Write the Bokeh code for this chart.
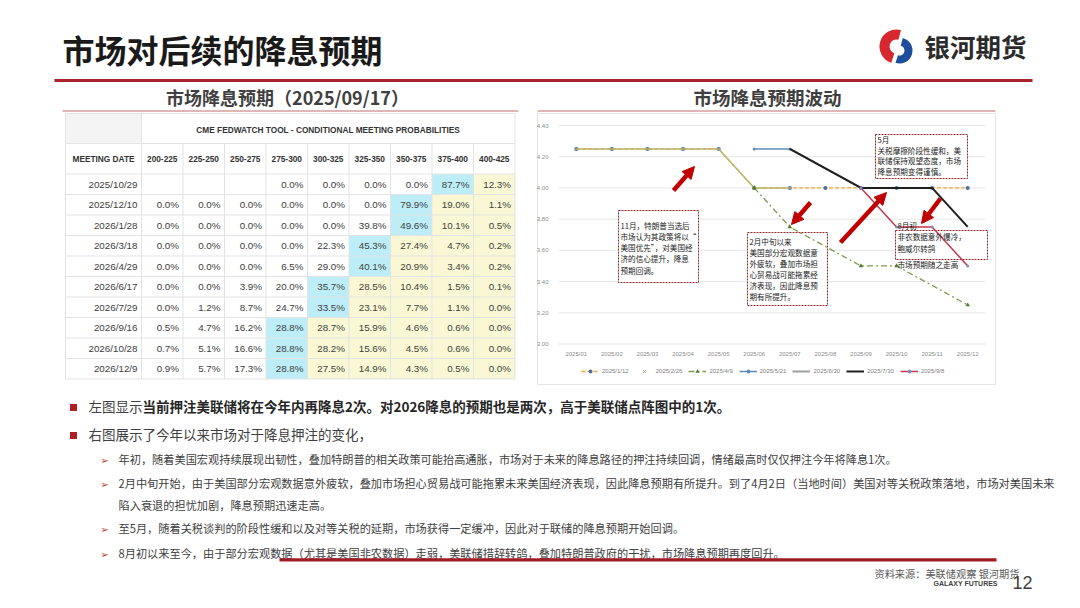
from bokeh.plotting import figure
from bokeh.models import Range1d, Arrow, NormalHead, Legend, LegendItem
from bokeh.core.properties import value
from bokeh.embed import file_html
from bokeh.resources import INLINE

CJK = "Noto Sans CJK SC"
LAT = "Liberation Sans"

# ---------------- data: FedWatch table ----------------
meeting_dates = ["2025/10/29", "2025/12/10", "2026/1/28", "2026/3/18", "2026/4/29",
                 "2026/6/17", "2026/7/29", "2026/9/16", "2026/10/28", "2026/12/9"]
rate_ranges = ["200-225", "225-250", "250-275", "275-300", "300-325",
               "325-350", "350-375", "375-400", "400-425"]
probs = [
    [None, None, None, 0.0, 0.0, 0.0, 0.0, 87.7, 12.3],
    [0.0, 0.0, 0.0, 0.0, 0.0, 0.0, 79.9, 19.0, 1.1],
    [0.0, 0.0, 0.0, 0.0, 0.0, 39.8, 49.6, 10.1, 0.5],
    [0.0, 0.0, 0.0, 0.0, 22.3, 45.3, 27.4, 4.7, 0.2],
    [0.0, 0.0, 0.0, 6.5, 29.0, 40.1, 20.9, 3.4, 0.2],
    [0.0, 0.0, 3.9, 20.0, 35.7, 28.5, 10.4, 1.5, 0.1],
    [0.0, 1.2, 8.7, 24.7, 33.5, 23.1, 7.7, 1.1, 0.0],
    [0.5, 4.7, 16.2, 28.8, 28.7, 15.9, 4.6, 0.6, 0.0],
    [0.7, 5.1, 16.6, 28.8, 28.2, 15.6, 4.5, 0.6, 0.0],
    [0.9, 5.7, 17.3, 28.8, 27.5, 14.9, 4.3, 0.5, 0.0],
]

# ---------------- data: expectation lines ----------------
months = ["2025/01", "2025/02", "2025/03", "2025/04", "2025/05", "2025/06",
          "2025/07", "2025/08", "2025/09", "2025/10", "2025/11", "2025/12"]
y_ticks = [3.00, 3.20, 3.40, 3.60, 3.80, 4.00, 4.20, 4.40]
s_0112_x = months
s_0112_y = [4.25, 4.25, 4.25, 4.25, 4.25, 4.00, 4.00, 4.00, 4.00, 4.00, 4.00, 4.00]
s_0226_x = ["2025/01", "2025/02", "2025/03", "2025/04", "2025/05", "2025/06", "2025/07"]
s_0226_y = [4.25, 4.25, 4.25, 4.25, 4.25, 4.00, 4.00]
s_0409_x = ["2025/06", "2025/07", "2025/09", "2025/10", "2025/12"]
s_0409_y = [4.00, 3.75, 3.50, 3.50, 3.25]
s_0521_x = ["2025/06", "2025/07"]
s_0521_y = [4.25, 4.25]
s_0630_x = ["2025/07", "2025/09", "2025/10", "2025/11"]
s_0630_y = [4.25, 4.00, 4.00, 4.00]
s_0730_x = ["2025/07", "2025/09", "2025/10", "2025/11", "2025/12"]
s_0730_y = [4.25, 4.00, 4.00, 4.00, 3.75]
s_0908_x = ["2025/09", "2025/10", "2025/11", "2025/12"]
s_0908_y = [4.00, 3.75, 3.75, 3.50]
series_labels = ["2025/1/12", "2025/2/26", "2025/4/9", "2025/5/21",
                 "2025/6/30", "2025/7/30", "2025/9/8"]

# ---------------- texts ----------------
title = "市场对后续的降息预期"
brand = "银河期货"
sub_left = "市场降息预期（2025/09/17）"
sub_right = "市场降息预期波动"
table_title = "CME FEDWATCH TOOL - CONDITIONAL MEETING PROBABILITIES"
box1 = ["11月，特朗普当选后", "市场认为其政策将以“", "美国优先”，对美国经", "济的信心提升，降息", "预期回调。"]
box2 = ["2月中旬以来", "美国部分宏观数据意", "外疲软，叠加市场担", "心贸易战可能拖累经", "济表现，因此降息预", "期有所提升。"]
box3 = ["5月", "关税摩擦阶段性缓和，美", "联储保持观望态度，市场", "降息预期变得谨慎。"]
box4 = ["8月初", "非农数据意外爆冷，", "鲍威尔转鸽", "市场预期随之走高"]
b1_reg = "左图显示"
b1_bold = "当前押注美联储将在今年内再降息2次。对2026降息的预期也是两次，高于美联储点阵图中的1次。"
b2 = "右图展示了今年以来市场对于降息押注的变化，"
subs = [
    "年初，随着美国宏观持续展现出韧性，叠加特朗普的相关政策可能抬高通胀，市场对于未来的降息路径的押注持续回调，情绪最高时仅仅押注今年将降息1次。",
    "2月中旬开始，由于美国部分宏观数据意外疲软，叠加市场担心贸易战可能拖累未来美国经济表现，因此降息预期有所提升。到了4月2日（当地时间）美国对等关税政策落地，市场对美国未来",
    "陷入衰退的担忧加剧，降息预期迅速走高。",
    "至5月，随着关税谈判的阶段性缓和以及对等关税的延期，市场获得一定缓冲，因此对于联储的降息预期开始回调。",
    "8月初以来至今，由于部分宏观数据（尤其是美国非农数据）走弱，美联储措辞转鸽，叠加特朗普政府的干扰，市场降息预期再度回升。",
]
source = "资料来源：美联储观察 银河期货"

W, H = 1080, 608
p = figure(width=W, height=H, x_range=Range1d(0, W), y_range=Range1d(H, 0),
           output_backend="svg", toolbar_location=None, min_border=0,
           x_axis_location=None, y_axis_location=None)
p.grid.visible = False
p.outline_line_color = None
p.background_fill_color = "white"
p.border_fill_color = "white"

# chart scales (extra ranges): plot area 558..985 px wide, 4.40 at y=125, 3.00 at y=343.5
CX0, CX1, CYT, CYB = 558.0, 985.0, 125.0, 343.5
BW = (CX1 - CX0) / len(months)
PPU = (CYB - CYT) / (y_ticks[-1] - y_ticks[0])
p.extra_x_ranges = {"cx": Range1d(-CX0 / BW, (W - CX0) / BW)}
p.extra_y_ranges = {"cy": Range1d(y_ticks[0] - (H - CYB) / PPU, y_ticks[-1] + CYT / PPU)}

CJK_DY = -1.5  # CJK glyphs sit slightly low with a "middle" baseline


def txt(x, y, t, size, color="#404040", font=CJK, bold=False, align="left", baseline="middle"):
    if font == CJK:
        y = y + CJK_DY
    p.text(x=[x], y=[y], text=[t], text_font=value(font), text_font_size=size,
           text_color=color, text_font_style="bold" if bold else "normal",
           text_align=align, text_baseline=baseline)


# ================= header =================
txt(62, 50, title, "32px", "#1A1A1A", bold=True)
p.annular_wedge(x=[896], y=[46], inner_radius=7, outer_radius=17, start_angle=1.3, end_angle=4.4,
                fill_color="#D7282F", line_color=None)
p.annular_wedge(x=[899], y=[50], inner_radius=5, outer_radius=13, start_angle=4.4, end_angle=7.6,
                fill_color="#1F4E9A", line_color=None)
txt(924, 46, brand, "25.5px", "#2B2B2B", bold=True)
p.segment(x0=[54], y0=[80], x1=[1032], y1=[80], line_color="#A8232A", line_width=3)
txt(287, 98, sub_left, "18px", "#404040", bold=True, align="center")
txt(767, 98, sub_right, "18.5px", "#404040", bold=True, align="center")
p.segment(x0=[62, 537], y0=[110.5, 110.5], x1=[518, 995], y1=[110.5, 110.5], line_color="#D69C9C", line_width=1.5)

# ================= table =================
TX0, DATE_W, COL_W = 65, 76, 41.5
TY0, H1, H2, ROW_H = 113, 30, 30.5, 20.5
ncol = len(rate_ranges)
col_l = [TX0 + DATE_W + k * COL_W for k in range(ncol)]
col_r = [c + COL_W for c in col_l]
t_right = col_r[-1]
d_top = TY0 + H1 + H2
nrows = len(meeting_dates)
t_bottom = d_top + nrows * ROW_H

p.quad(left=[TX0], right=[TX0 + DATE_W], top=[TY0], bottom=[TY0 + H1], fill_color="#F4F4F4", line_color=None)
L, R, T, B, C = [], [], [], [], []
for i, rowv in enumerate(probs):
    vals = [v if v is not None else -1 for v in rowv]
    jmax = vals.index(max(vals))
    for j, v in enumerate(rowv):
        if j == jmax:
            col = "#BDEEF7"
        elif j > jmax:
            col = "#FAF8D4"
        else:
            continue
        L.append(col_l[j]); R.append(col_r[j])
        T.append(d_top + i * ROW_H); B.append(d_top + (i + 1) * ROW_H); C.append(col)
p.quad(left=L, right=R, top=T, bottom=B, fill_color=C, line_color=None)

hy = [TY0, TY0 + H1, d_top] + [d_top + (i + 1) * ROW_H for i in range(nrows)]
p.segment(x0=[TX0] * len(hy), y0=hy, x1=[t_right] * len(hy), y1=hy, line_color="#E3E3E3", line_width=1)
vx = [TX0, TX0 + DATE_W] + col_r
vy0 = [TY0, TY0] + [TY0 + H1] * (ncol - 1) + [TY0]
p.segment(x0=vx, y0=vy0, x1=vx, y1=[t_bottom] * len(vx), line_color="#E3E3E3", line_width=1)

txt((TX0 + DATE_W + t_right) / 2, TY0 + H1 / 2 + 1, table_title, "8.3px", "#333333", LAT, True, "center")
txt(TX0 + DATE_W / 2, TY0 + H1 + H2 / 2, "MEETING DATE", "8.3px", "#333333", LAT, True, "center")
p.text(x=[(a + b) / 2 for a, b in zip(col_l, col_r)], y=[TY0 + H1 + H2 / 2] * ncol, text=rate_ranges,
       text_font=value(LAT), text_font_size="8.3px", text_font_style="bold", text_color="#333333",
       text_align="center", text_baseline="middle")
p.text(x=[TX0 + DATE_W - 4] * nrows, y=[d_top + (i + 0.5) * ROW_H for i in range(nrows)], text=meeting_dates,
       text_font=value(LAT), text_font_size="9.8px", text_color="#404040", text_align="right",
       text_baseline="middle")
vxs, vys, vts = [], [], []
for i, rowv in enumerate(probs):
    for j, v in enumerate(rowv):
        if v is None:
            continue
        vxs.append(col_r[j] - 4); vys.append(d_top + (i + 0.5) * ROW_H); vts.append(f"{v:.1f}%")
p.text(x=vxs, y=vys, text=vts, text_font=value(LAT), text_font_size="9.8px", text_color="#404040",
       text_align="right", text_baseline="middle")

# ================= line chart =================
p.quad(left=[537], right=[995], top=[113], bottom=[384], fill_color=None, line_color="#E4E4E4", line_width=1)
p.segment(x0=[0] * len(y_ticks), x1=[len(months)] * len(y_ticks), y0=y_ticks, y1=y_ticks,
          x_range_name="cx", y_range_name="cy", line_color="#E6E6E6", line_width=1)
p.text(x=[548] * len(y_ticks), y=y_ticks, text=[f"{t:.2f}" for t in y_ticks], y_range_name="cy",
       text_font=value(LAT), text_font_size="6px", text_color="#8C8C8C", text_align="right",
       text_baseline="middle")
p.text(x=[k + 0.5 for k in range(len(months))], y=[353] * len(months), text=months, x_range_name="cx",
       text_font=value(LAT), text_font_size="6px", text_color="#8C8C8C", text_align="center",
       text_baseline="middle")

# annotation boxes (white, dashed dark-red border)
boxes = [(618, 698, 210, 282), (747, 827, 232, 305), (875, 967, 134, 178), (895, 987, 230, 259)]
p.quad(left=[b[0] for b in boxes], right=[b[1] for b in boxes], top=[b[2] for b in boxes],
       bottom=[b[3] for b in boxes], fill_color="white", line_color="#8E2A2A", line_dash="2 1", line_width=1)


def mx(xs):
    return [months.index(m) + 0.5 for m in xs]


kw = dict(x_range_name="cx", y_range_name="cy")
r1 = p.line(mx(s_0112_x), s_0112_y, line_color="#F2A33A", line_dash="4 2", line_width=1.3, **kw)
r1m = p.scatter(mx(s_0112_x), s_0112_y, marker="circle", size=4, fill_color="#4E6E9E", line_color=None, **kw)
r2 = p.line(mx(s_0226_x), s_0226_y, line_color="#B9B56C", line_width=1.5, **kw)
r2m = p.scatter(mx(s_0226_x), s_0226_y, marker="x", size=4, line_color="#A8A48A", **kw)
r3 = p.line(mx(s_0409_x), s_0409_y, line_color="#7E9C4E", line_dash="6 3 2 3", line_width=1.3, **kw)
r3m = p.scatter(mx(s_0409_x), s_0409_y, marker="triangle", size=4.5, fill_color="#4F7A2E", line_color=None, **kw)
r4 = p.line(mx(s_0521_x), s_0521_y, line_color="#5B8DB8", line_width=1.5, **kw)
r4m = p.scatter(mx(s_0521_x), s_0521_y, marker="circle", size=3, fill_color="#5B8DB8", line_color=None, **kw)
r5 = p.line(mx(s_0630_x), s_0630_y, line_color="#9E9E9E", line_width=2, **kw)
r6 = p.line(mx(s_0730_x), s_0730_y, line_color="#1F1F1F", line_width=2, **kw)
r7 = p.line(mx(s_0908_x), s_0908_y, line_color="#C7374A", line_width=1.5, **kw)
r7m = p.scatter(mx(s_0908_x), s_0908_y, marker="circle", size=3, fill_color="#8090C0", line_color=None, **kw)


def box_text(lines, sx, sy0, step, size="7.6px"):
    p.text(x=[sx] * len(lines), y=[sy0 + CJK_DY * 0.5 + k * step for k in range(len(lines))], text=lines,
           text_font=value(CJK), text_font_size=size, text_color="#222222",
           text_align="left", text_baseline="middle")


box_text(box1, 620, 225.5, 11.2)
box_text(box2, 749, 242, 11.0)
box_text(box3, 877, 139.5, 10.8)
box_text(box4[:3], 897, 225.5, 11.5)
box_text(box4[3:], 897, 265, 11.5)

for (x0, y0, x1, y1) in [(673, 190, 694, 166), (810, 202, 791, 224), (840, 242, 886, 192), (940, 198, 921, 223)]:
    p.add_layout(Arrow(end=NormalHead(size=12, fill_color="#C00000", line_color="#C00000"),
                       x_start=x0, y_start=y0, x_end=x1, y_end=y1, line_color="#C00000", line_width=4.5))

legend = Legend(items=[
    LegendItem(label=series_labels[0], renderers=[r1, r1m]),
    LegendItem(label=series_labels[1], renderers=[r2m]),
    LegendItem(label=series_labels[2], renderers=[r3, r3m]),
    LegendItem(label=series_labels[3], renderers=[r4, r4m]),
    LegendItem(label=series_labels[4], renderers=[r5]),
    LegendItem(label=series_labels[5], renderers=[r6]),
    LegendItem(label=series_labels[6], renderers=[r7, r7m]),
], orientation="horizontal", location=(581, H - 376), label_text_font=LAT, label_text_font_size="6px",
    label_text_color="#7F7F7F", glyph_width=18, glyph_height=10, label_height=10, label_standoff=3,
    spacing=6, padding=2, margin=0, border_line_color=None, background_fill_alpha=0)
p.add_layout(legend)

# ================= bottom text =================
p.rect(x=[73, 73], y=[407, 435], width=7, height=7, fill_color="#B01E23", line_color=None)
txt(88, 407, b1_reg, "13.5px", "#404040")
txt(88 + 4 * 13.5, 407, b1_bold, "13.5px", "#262626", bold=True)
txt(88, 435, b2, "13.5px", "#404040")
sub_y = [460, 484, 506, 529, 554]
arrow_y = [460, 484, 529, 554]
p.text(x=[100] * len(arrow_y), y=arrow_y, text=["➢"] * len(arrow_y), text_font=value("DejaVu Sans"),
       text_font_size="10px", text_color="#C0392B", text_align="left", text_baseline="middle")
p.text(x=[118] * len(subs), y=[y + CJK_DY for y in sub_y], text=subs, text_font=value(CJK),
       text_font_size="11.2px", text_color="#404040", text_align="left", text_baseline="middle")
p.segment(x0=[279], y0=[559.3], x1=[996], y1=[559.3], line_color="#A01C22", line_width=3.3)
txt(874, 574, source, "10.2px", "#595959")
txt(933, 583, "GALAXY FUTURES", "7px", "#404040", LAT, True)
txt(1012, 582, "12", "18px", "#404040", LAT)

open("out.html", "w").write(file_html(p, INLINE))
